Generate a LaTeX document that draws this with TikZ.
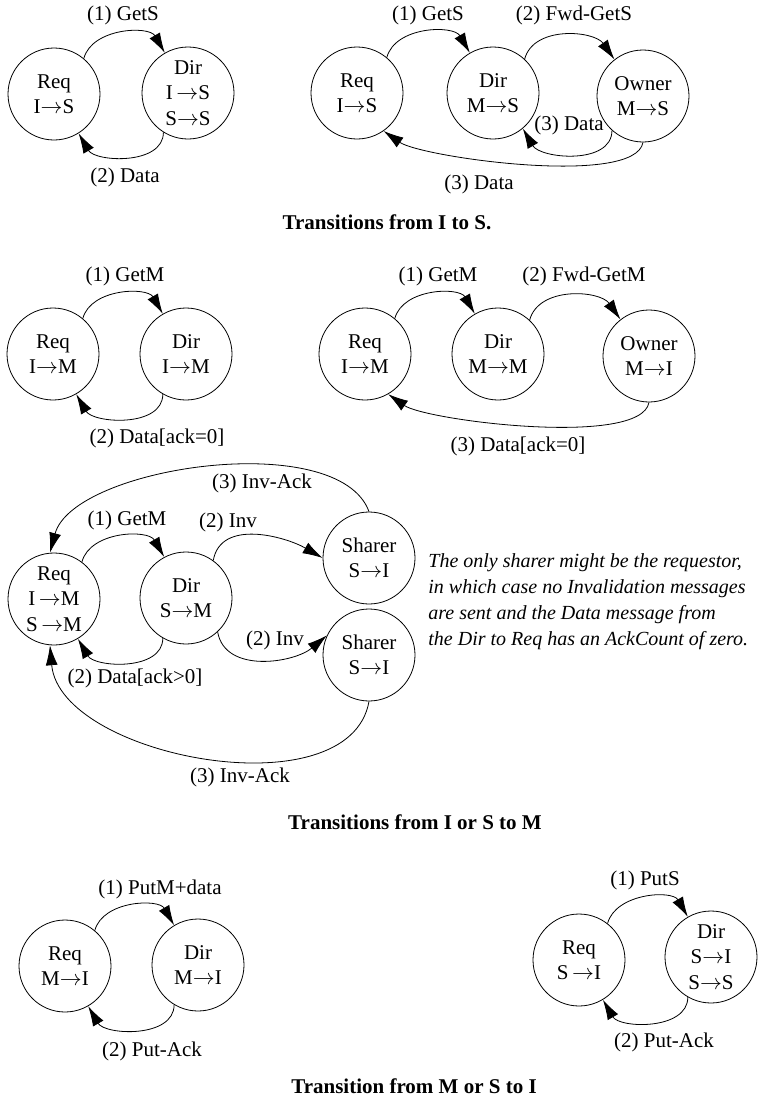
\documentclass[tikz,border=0pt]{standalone}
\usepackage{fontspec}
\setmainfont{Liberation Serif}
\usetikzlibrary{arrows.meta}
\tikzset{
  state/.style={circle, draw, minimum size=46pt, inner sep=0pt, align=center},
  msg/.style={-{Latex[length=10pt,width=6pt]}},
  caption/.style={font=\fontsize{10.5}{12.75}\selectfont\bfseries},
}
\begin{document}
\begin{tikzpicture}[x=0.5pt, y=0.5pt, every node/.style={font=\fontsize{10.5}{12.75}\selectfont}]
  \useasboundingbox (0,0) rectangle (767,-1098);

  % I to S
  \node[state] (req1) at (54,-94) {Req\\I$\rightarrow$S};
  \node[state] (dir1) at (188,-93) {Dir\\I\,$\rightarrow$S\\S$\rightarrow$S};
  \draw[msg] (req1.50) to[out=75,in=120] (dir1.120);
  \draw[msg] (dir1.238) to[out=-90,in=-60] (req1.302);
  \node (gets1) at (123,-15) {(1) GetS};
  \node (data1) at (125,-177) {(2) Data};

  \node[state] (req2) at (357,-93) {Req\\I$\rightarrow$S};
  \node[state] (dir2) at (493,-93) {Dir\\M$\rightarrow$S};
  \node[state] (own2) at (643,-96) {Owner\\M$\rightarrow$S};
  \draw[msg] (req2.50) to[out=75,in=120] (dir2.120);
  \draw[msg] (dir2.47) to[out=75,in=125] (own2.128);
  \draw[msg] (own2.228) to[out=-90,in=-60] (dir2.310);
  \draw[msg] (own2.270) to[out=-100,in=-35,looseness=0.45] (req2.305);
  \node (gets2) at (428,-15) {(1) GetS};
  \node (fwd2) at (574,-15) {(2) Fwd-GetS};
  \node (data2a) at (569,-125) {(3) Data};
  \node (data2b) at (479,-184) {(3) Data};

  \node[caption] (capS) at (387,-222) {Transitions from I to S.};

  % I or S to M
  \node[state] (req3) at (53,-354) {Req\\I$\rightarrow$M};
  \node[state] (dir3) at (186,-354) {Dir\\I$\rightarrow$M};
  \draw[msg] (req3.50) to[out=75,in=120] (dir3.120);
  \draw[msg] (dir3.240) to[out=-90,in=-60] (req3.300);
  \node (getm3) at (125,-276) {(1) GetM};
  \node (data3) at (157,-438) {(2) Data[ack=0]};

  \node[state] (req4) at (365,-354) {Req\\I$\rightarrow$M};
  \node[state] (dir4) at (498,-354) {Dir\\M$\rightarrow$M};
  \node[state] (own4) at (649,-356) {Owner\\M$\rightarrow$I};
  \draw[msg] (req4.50) to[out=75,in=120] (dir4.120);
  \draw[msg] (dir4.47) to[out=75,in=125] (own4.128);
  \draw[msg] (own4.270) to[out=-100,in=-35,looseness=0.45] (req4.300);
  \node (getm4) at (438,-276) {(1) GetM};
  \node (fwd4) at (584,-276) {(2) Fwd-GetM};
  \node (data4) at (518,-446) {(3) Data[ack=0]};

  \node[state] (req5) at (54,-599) {Req\\I\,$\rightarrow$M\\S\,$\rightarrow$M};
  \node[state] (dir5) at (186,-598) {Dir\\S$\rightarrow$M};
  \node[state] (sh1) at (369,-558) {Sharer\\S$\rightarrow$I};
  \node[state] (sh2) at (369,-655) {Sharer\\S$\rightarrow$I};
  \draw[msg] (req5.53) to[out=75,in=120] (dir5.118);
  \draw[msg] (dir5.54) to[out=80,in=150] (sh1.180);
  \draw[msg] (dir5.313) to[out=-80,in=-140] (sh2.155);
  \draw[msg] (dir5.240) to[out=-90,in=-60] (req5.301);
  \draw[msg] (sh1.90) to[out=110,in=75,looseness=0.71] (req5.95);
  \draw[msg] (sh2.270) to[out=-100,in=-85,looseness=0.89] (req5.265);
  \node (ack5a) at (262,-483) {(3) Inv-Ack};
  \node (getm5) at (127,-520) {(1) GetM};
  \node (inv5a) at (228,-522) {(2) Inv};
  \node (inv5b) at (275,-640) {(2) Inv};
  \node (data5) at (135,-678) {(2) Data[ack>0]};
  \node (ack5b) at (240,-777) {(3) Inv-Ack};
  \node[align=left, anchor=west, inner sep=0pt, font=\fontsize{10}{13}\selectfont\itshape] (note) at (428,-602)
    {The only sharer might be the requestor,\\in which case no Invalidation messages\\are sent and the Data message from\\the Dir to Req has an AckCount of zero.};

  \node[caption] (capM) at (415,-822) {Transitions from I or S to M};

  % M or S to I
  \node[state] (req6) at (65,-966) {Req\\M$\rightarrow$I};
  \node[state] (dir6) at (198,-965) {Dir\\M$\rightarrow$I};
  \draw[msg] (req6.50) to[out=75,in=120] (dir6.121);
  \draw[msg] (dir6.239) to[out=-90,in=-60] (req6.300);
  \node (putm6) at (160,-889) {(1) PutM+data};
  \node (pack6) at (152,-1051) {(2) Put-Ack};

  \node[state] (req7) at (579,-960) {Req\\S\,$\rightarrow$I};
  \node[state] (dir7) at (711,-957) {Dir\\S$\rightarrow$I\\S$\rightarrow$S};
  \draw[msg] (req7.52) to[out=75,in=120] (dir7.120);
  \draw[msg] (dir7.240) to[out=-90,in=-60] (req7.301);
  \node (puts7) at (645,-880) {(1) PutS};
  \node (pack7) at (664,-1042) {(2) Put-Ack};

  \node[caption] (capI) at (414,-1086) {Transition from M or S to I};
\end{tikzpicture}
\end{document}
